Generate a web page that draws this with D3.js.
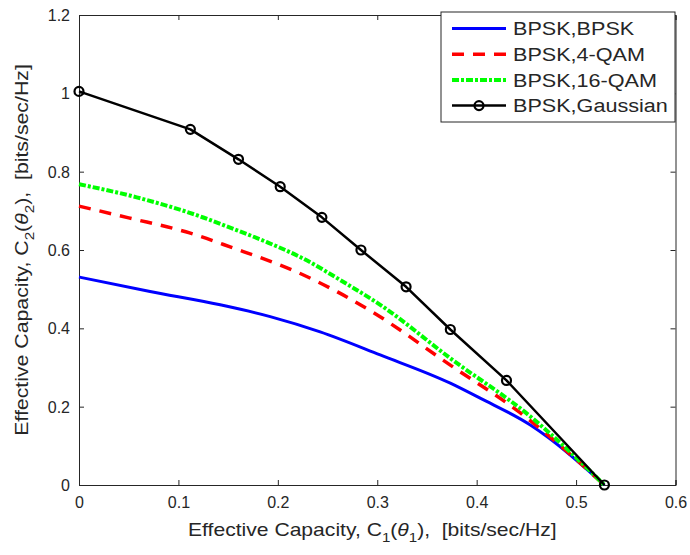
<!DOCTYPE html>
<html>
<head>
<meta charset="utf-8">
<script src="https://cdn.jsdelivr.net/npm/d3@7/dist/d3.min.js"></script>
<style>
  html, body { margin: 0; padding: 0; background: #fff; }
  svg { display: block; font-family: "Liberation Sans", Arial, sans-serif; }
  text { white-space: pre; }
</style>
</head>
<body>
<svg id="chart" width="690" height="555"></svg>
<script>
// Effective capacity region for user 1 (BPSK) against several inputs of user 2
const seriesNames = ["BPSK,BPSK", "BPSK,4-QAM", "BPSK,16-QAM", "BPSK,Gaussian"];

const bpskX = [0, 0.0715, 0.142, 0.1923, 0.2426, 0.303, 0.3735, 0.404, 0.454, 0.471, 0.5285];
const bpskY = [0.531, 0.494, 0.46, 0.43, 0.391, 0.332, 0.26, 0.221, 0.153, 0.123, 0];

const qam4X = [0, 0.05, 0.112, 0.152, 0.2225, 0.26, 0.2947, 0.3735, 0.444, 0.5285];
const qam4Y = [0.712, 0.682, 0.643, 0.608, 0.54, 0.493, 0.4425, 0.306, 0.184, 0];

const qam16X = [0, 0.058, 0.125, 0.152, 0.189, 0.2225, 0.2695, 0.303, 0.3735, 0.454, 0.5285];
const qam16Y = [0.768, 0.7345, 0.683, 0.657, 0.62, 0.582, 0.513, 0.46, 0.3235, 0.175, 0];

const gaussX = [0, 0.112, 0.1604, 0.2024, 0.2443, 0.2836, 0.329, 0.3735, 0.43, 0.5285];
const gaussY = [1.005, 0.908, 0.8315, 0.7616, 0.6834, 0.600, 0.506, 0.397, 0.267, 0];

const xTicks = [0, 0.1, 0.2, 0.3, 0.4, 0.5, 0.6];
const yTicks = [0, 0.2, 0.4, 0.6, 0.8, 1, 1.2];

const svg = d3.select("#chart");
const axisColor = "#262626";
const box = { left: 79, right: 675.5, top: 15, bottom: 485 };

const x = d3.scaleLinear().domain([0, 0.6]).range([box.left, box.right]);
const y = d3.scaleLinear().domain([0, 1.2]).range([box.bottom, box.top]);

// axes with inward ticks on all four sides
const tickLen = 5;
const fmt = d => d3.format("")(d);
const axB = svg.append("g").attr("transform", `translate(0,${box.bottom})`)
  .call(d3.axisBottom(x).tickValues(xTicks).tickSize(-tickLen).tickPadding(12).tickFormat(fmt));
const axT = svg.append("g").attr("transform", `translate(0,${box.top})`)
  .call(d3.axisTop(x).tickValues(xTicks).tickSize(-tickLen).tickFormat(""));
const axL = svg.append("g").attr("transform", `translate(${box.left},0)`)
  .call(d3.axisLeft(y).tickValues(yTicks).tickSize(-tickLen).tickPadding(9).tickFormat(fmt));
const axR = svg.append("g").attr("transform", `translate(${box.right},0)`)
  .call(d3.axisRight(y).tickValues(yTicks).tickSize(-tickLen).tickFormat(""));

[axB, axT, axL, axR].forEach(g => {
  g.select(".domain").attr("stroke", axisColor).attr("stroke-width", 1);
  g.selectAll(".tick line").attr("stroke", axisColor).attr("stroke-width", 1);
  g.selectAll(".tick text").attr("fill", axisColor).style("font-size", "16px")
    .style("font-family", "'Liberation Sans', Arial, sans-serif");
});
axB.selectAll(".tick text").attr("dy", "0.71em");
axL.selectAll(".tick text").attr("dy", "0.35em");

// curves
const zip = (a, b) => a.map((v, i) => [v, b[i]]);

const styles = [
  { data: zip(bpskX, bpskY), color: "#0000ff", width: 3, dash: null },
  { data: zip(qam4X, qam4Y), color: "#ff0000", width: 3.5, dash: "12,9" },
  { data: zip(qam16X, qam16Y), color: "#00ff00", width: 4, dash: "7,2,3,2" },
  { data: zip(gaussX, gaussY), color: "#000000", width: 2.5, dash: null, marker: true }
];

const plot = svg.append("g");
styles.forEach(s => {
  const line = d3.line().x(d => x(d[0])).y(d => y(d[1]))
    .curve(s.marker ? d3.curveLinear : d3.curveMonotoneX);
  plot.append("path").datum(s.data)
    .attr("d", line).attr("fill", "none")
    .attr("stroke", s.color).attr("stroke-width", s.width)
    .attr("stroke-dasharray", s.dash)
    .attr("stroke-linejoin", "round");
  if (s.marker) {
    plot.selectAll(null).data(s.data).enter().append("circle")
      .attr("cx", d => x(d[0])).attr("cy", d => y(d[1])).attr("r", 4.5)
      .attr("fill", "none").attr("stroke", s.color).attr("stroke-width", 2.2);
  }
});

// legend
const lg = svg.append("g");
lg.append("rect").attr("x", 441).attr("y", 12).attr("width", 234).attr("height", 110)
  .attr("fill", "#fff").attr("stroke", axisColor).attr("stroke-width", 1);
const legendTexts = [];
styles.forEach((s, i) => {
  const ly = 28.5 + i * 25.7;
  lg.append("line").attr("x1", 452).attr("x2", 506).attr("y1", ly).attr("y2", ly)
    .attr("stroke", s.color).attr("stroke-width", s.width).attr("stroke-dasharray", s.dash);
  if (s.marker) {
    lg.append("circle").attr("cx", 479).attr("cy", ly).attr("r", 4.5)
      .attr("fill", "none").attr("stroke", s.color).attr("stroke-width", 2.2);
  }
  const tg = lg.append("g").attr("transform", `translate(513,${ly})`);
  legendTexts.push(tg.append("text").attr("dy", "0.36em")
    .attr("fill", axisColor).style("font-size", "19px").text(seriesNames[i]));
});
// the legend face is drawn slightly wide
const lgScale = 155 / legendTexts[3].node().getComputedTextLength();
legendTexts.forEach(t => t.attr("transform", `scale(${lgScale},1)`));

// axis titles with sub-scripted capacity symbols
function axisTitle(parent, idx) {
  const t = parent.append("text").attr("fill", axisColor).style("font-size", "17.5px");
  t.append("tspan").text("Effective Capacity, C");
  t.append("tspan").attr("dy", 6).style("font-size", "12.5px").text(idx);
  t.append("tspan").attr("dy", -6).text("(");
  t.append("tspan").style("font-style", "italic").text("θ");
  t.append("tspan").attr("dy", 6).style("font-size", "12.5px").text(idx);
  t.append("tspan").attr("dy", -6).text("),  [bits/sec/Hz]");
  return t;
}

const xg = svg.append("g").attr("transform", "translate(188,536)");
const xl = axisTitle(xg, "1");
const xs = 369 / xl.node().getComputedTextLength();
xl.attr("transform", `scale(${xs},1)`);

const yg = svg.append("g").attr("transform", "translate(28,250) rotate(-90)");
const yl = axisTitle(yg, "2").attr("text-anchor", "middle");
const ys = 372 / yl.node().getComputedTextLength();
yl.attr("transform", `scale(${ys},1)`);
</script>
</body>
</html>
